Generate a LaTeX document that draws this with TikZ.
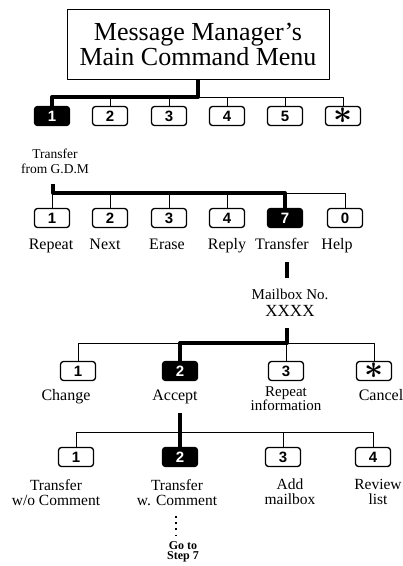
\documentclass[tikz,border=0pt]{standalone}
\usepackage{fontspec}
\setmainfont{Liberation Serif}
\setsansfont{Liberation Sans}

\begin{document}
\begin{tikzpicture}[x=1pt,y=-1pt,line join=round,
  key/.style={draw,rectangle,rounded corners=3pt,line width=1.3pt,minimum width=35pt,minimum height=19pt,inner sep=0pt,font=\sffamily\bfseries\fontsize{15}{15}\selectfont},
  keyon/.style={key,fill=black,text=white},
  lbl/.style={font=\fontsize{16}{15}\selectfont,align=center,inner sep=0pt,anchor=base},
  lbltwo/.style={lbl,anchor=north,font=\fontsize{15.5}{15}\selectfont},
  bus/.style={line width=1pt},
  sel/.style={line width=4pt}]
\useasboundingbox (0,0) rectangle (403,566);
% main menu
\node[draw,line width=1pt,minimum width=262pt,minimum height=70pt,inner sep=0pt,align=center,font=\fontsize{26}{25}\selectfont] (menu) at (198,44) {Message Manager's\\Main Command Menu};
\node[keyon] (m1) at (52,116) {1};
\foreach \n/\x in {2/110,3/169,4/227,5/285}
  \node[key] (m\n) at (\x,116) {\n};
\node[key] (mstar) at (343,116) {\scalebox{2.3}{\boldmath$\ast$}};
\coordinate (j1) at (198,97);
\foreach \n in {2,3,4,5,star}
  \draw[bus] (j1) -| (m\n.north);
\draw[sel] (menu.south) -- (j1) -| (m1.north);
\node[lbltwo,font=\fontsize{13.5}{14.5}\selectfont] (gdm) at (55,149) {Transfer\\from G.D.M};
% message options
\foreach \n/\x/\lx/\t in {1/52/51/Repeat,2/110/105/Next,3/169/167/Erase,4/227/227/Reply,0/345/337/Help}{
  \node[key] (r\n) at (\x,218) {\n};
  \node[lbl] (r\n t) at (\lx,249) {\t};
}
\node[keyon] (r7) at (285,218) {7};
\node[lbl] (r7t) at (282,249) {Transfer};
\coordinate (c2) at (53,184);
\coordinate (j2) at (53,193);
\foreach \n in {1,2,3,4,0}
  \draw[bus] (j2) -| (r\n.north);
\draw[sel] (c2) -- (j2) -| (r7.north);
\coordinate (x1) at (287,262);
\coordinate (x2) at (287,278);
\draw[sel] (x1) -- (x2);
\node[lbl,font=\fontsize{15}{15}\selectfont] (mbox) at (290,299) {Mailbox No.};
\node[lbl,font=\fontsize{17}{17}\selectfont] (xxxx) at (290,316) {XXXX};
% transfer options
\node[key] (a1) at (78,371) {1};
\node[keyon] (a2) at (180,371) {2};
\node[key] (a3) at (286,371) {3};
\node[key] (astar) at (374,371) {\scalebox{2.3}{\boldmath$\ast$}};
\coordinate (c3) at (287,328);
\coordinate (j3) at (287,343);
\foreach \n in {1,3,star}
  \draw[bus] (j3) -| (a\n.north);
\draw[sel] (c3) -- (j3) -| (a2.north);
\node[lbl] (a1t) at (66,400) {Change};
\node[lbl] (a2t) at (175,400) {Accept};
\node[lbltwo,font=\fontsize{15}{13.5}\selectfont] (a3t) at (286,386) {Repeat\\information};
\node[lbl] (astart) at (381,400) {Cancel};
% accept options
\node[key] (w1) at (76,457) {1};
\node[keyon] (w2) at (180,457) {2};
\node[key] (w3) at (283,457) {3};
\node[key] (w4) at (373,457) {4};
\coordinate (c4) at (180,413);
\coordinate (j4) at (180,432);
\foreach \n in {1,3,4}
  \draw[bus] (j4) -| (w\n.north);
\draw[sel] (c4) -- (w2.north);
\node[lbltwo] (w1t) at (56,479) {Transfer\\w/o Comment};
\node[lbltwo] (w2t) at (177,479) {Transfer\\w. Comment};
\node[lbltwo] (w3t) at (290,479) {Add\\mailbox};
\node[lbltwo] (w4t) at (378,479) {Review\\list};
\coordinate (d1) at (176,516);
\coordinate (d2) at (176,536);
\draw[line width=1.6pt,dash pattern=on 1.6pt off 4.6pt] (d1) -- (d2);
\node[lbltwo,font=\bfseries\fontsize{12}{10.5}\selectfont] (step) at (183,541) {Go to\\Step 7};
\end{tikzpicture}
\end{document}
